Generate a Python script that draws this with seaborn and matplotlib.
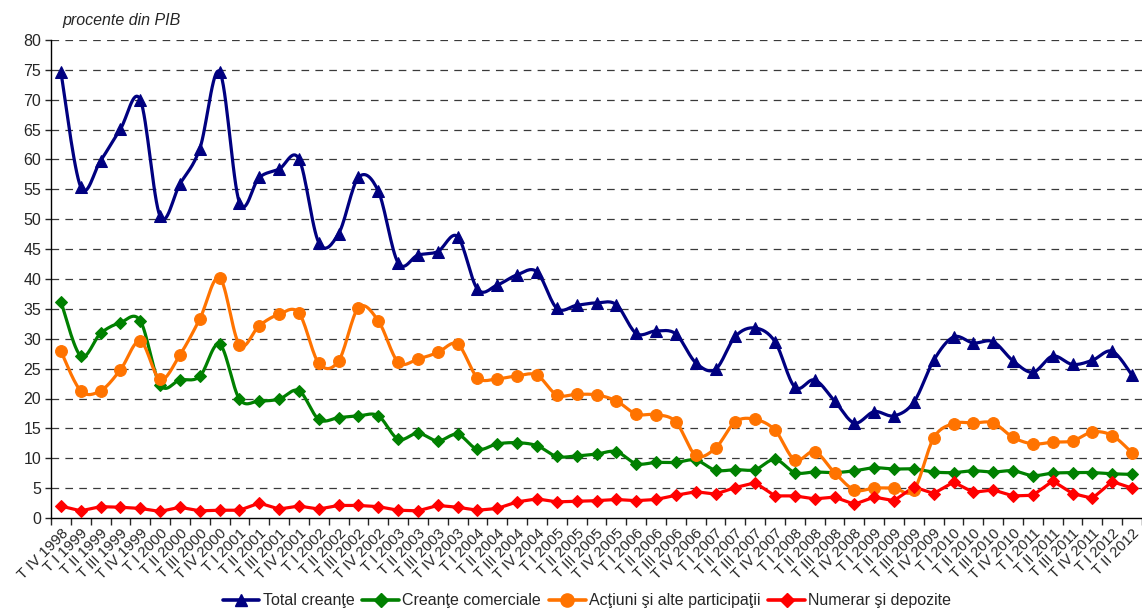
import numpy as np
import pandas as pd
import seaborn as sns
import matplotlib.pyplot as plt
from matplotlib.lines import Line2D

sns.set_style('white')
plt.rcParams['font.family'] = ['Liberation Sans', 'DejaVu Sans']
plt.rcParams['lines.scale_dashes'] = False

# etichete trimestre
roman = ['I', 'II', 'III', 'IV']
quarters = ['T IV 1998'] + [f'T {q} {y}' for y in range(1999, 2012) for q in roman] + ['T I 2012', 'T II 2012']

# valori (procente din PIB)
total = [74.6, 55.4, 59.8, 65.1, 70.0, 50.5, 55.9, 61.8, 74.7, 52.8,
         57.0, 58.4, 60.1, 46.1, 47.6, 57.0, 54.7, 42.7, 44.0, 44.6,
         47.1, 38.3, 39.0, 40.7, 41.2, 35.1, 35.6, 36.0, 35.7, 30.9,
         31.3, 30.8, 26.0, 24.9, 30.4, 31.8, 29.5, 21.9, 23.1, 19.6,
         15.9, 17.8, 17.1, 19.4, 26.4, 30.3, 29.3, 29.5, 26.3, 24.4,
         27.1, 25.7, 26.4, 27.9, 23.9]
comerciale = [36.2, 27.1, 30.9, 32.7, 33.0, 22.3, 23.1, 23.7, 29.1, 19.9,
              19.6, 19.9, 21.3, 16.5, 16.8, 17.1, 17.1, 13.2, 14.2, 12.9,
              14.0, 11.5, 12.4, 12.6, 12.1, 10.3, 10.4, 10.7, 11.1, 9.1,
              9.3, 9.3, 9.7, 8.0, 8.1, 8.1, 9.8, 7.6, 7.7, 7.6,
              7.9, 8.4, 8.2, 8.2, 7.7, 7.6, 7.9, 7.7, 7.9, 7.1,
              7.5, 7.6, 7.6, 7.4, 7.3]
actiuni = [27.9, 21.3, 21.3, 24.8, 29.6, 23.2, 27.3, 33.3, 40.2, 29.0,
           32.2, 34.1, 34.3, 25.9, 26.3, 35.2, 33.0, 26.1, 26.6, 27.7,
           29.1, 23.5, 23.3, 23.8, 23.9, 20.6, 20.7, 20.6, 19.6, 17.4,
           17.3, 16.1, 10.5, 11.7, 16.1, 16.5, 14.7, 9.7, 11.1, 7.6,
           4.7, 5.0, 5.0, 4.7, 13.4, 15.8, 15.9, 15.9, 13.5, 12.4,
           12.7, 12.9, 14.4, 13.8, 10.9]
numerar = [2.0, 1.2, 1.9, 1.8, 1.6, 1.1, 1.8, 1.2, 1.3, 1.3,
           2.5, 1.5, 2.0, 1.5, 2.1, 2.1, 1.9, 1.3, 1.2, 2.1,
           1.8, 1.3, 1.6, 2.7, 3.2, 2.7, 2.8, 2.9, 3.1, 2.9,
           3.1, 3.8, 4.4, 4.0, 5.1, 5.9, 3.7, 3.7, 3.2, 3.5,
           2.3, 3.5, 2.9, 5.2, 4.1, 6.0, 4.3, 4.7, 3.7, 3.8,
           6.2, 4.1, 3.3, 6.1, 5.0]

series = [
    ('Total creanţe', total, '#000080', '^', 8, True),
    ('Creanţe comerciale', comerciale, '#008000', 'D', 6, True),
    ('Acţiuni şi alte participaţii', actiuni, '#FF7300', 'o', 8.5, True),
    ('Numerar şi depozite', numerar, '#FF0000', 'D', 6, False),
]


def smooth(y, n=16):
    # curba tip Excel (Catmull-Rom -> Bezier)
    y = np.asarray(y, float)
    x = np.arange(len(y), dtype=float)
    p = np.column_stack([x, y])
    out = []
    t = np.linspace(0, 1, n, endpoint=False)[:, None]
    for i in range(len(p) - 1):
        p0 = p[max(i - 1, 0)]
        p1, p2 = p[i], p[i + 1]
        p3 = p[min(i + 2, len(p) - 1)]
        c1 = p1 + (p2 - p0) / 6
        c2 = p2 - (p3 - p1) / 6
        seg = ((1 - t) ** 3) * p1 + 3 * ((1 - t) ** 2) * t * c1 + 3 * (1 - t) * t ** 2 * c2 + t ** 3 * p2
        out.append(seg)
    out.append(p[-1:])
    out = np.vstack(out)
    return out[:, 0], out[:, 1]


fig = plt.figure(figsize=(11.42, 6.11), dpi=100)
ax = fig.add_axes([51 / 1142, 1 - 518 / 611, 1 - 51 / 1142, (518 - 40) / 611])

handles = []
for name, vals, color, mk, ms, sm in series:
    if sm:
        xs, ys = smooth(vals)
    else:
        xs, ys = np.arange(len(vals)), np.asarray(vals)
    sns.lineplot(x=xs, y=ys, ax=ax, color=color, lw=2.3, sort=False, zorder=3)
    df = pd.DataFrame({'x': np.arange(len(vals)), 'y': vals})
    sns.lineplot(data=df, x='x', y='y', ax=ax, color=color, lw=0, marker=mk,
                 markersize=ms, markeredgecolor=color, zorder=4)
    handles.append(Line2D([], [], color=color, lw=2.6, marker=mk, markersize=ms + 1,
                          markeredgecolor=color, label=name))

ax.set_xlim(-0.5, 54.05)
ax.set_ylim(0, 80)
ax.set_yticks(range(0, 81, 5))
ax.tick_params(axis='y', labelsize=11.5, length=4, width=1, direction='out', pad=3, left=True)
ax.set_xticks(np.arange(-0.5, 55, 1))
ax.set_xticklabels([])
ax.set_xticks(np.arange(len(quarters)), minor=True)
ax.set_xticklabels(quarters, minor=True, rotation=45, ha='right', va='top',
                   rotation_mode='anchor', fontsize=10.8)
ax.tick_params(axis='x', which='major', length=5, width=1, direction='out', bottom=True)
ax.tick_params(axis='x', which='minor', length=0, pad=6)
ax.set_xlabel('')
ax.set_ylabel('')

for v in range(5, 81, 5):
    ax.axhline(v, color='#3a3a3a', lw=0.9, ls=(0, (5.5, 4.5)), zorder=1)

for s in ['top', 'right']:
    ax.spines[s].set_visible(False)
for s in ['left', 'bottom']:
    ax.spines[s].set_color('black')
    ax.spines[s].set_linewidth(1)

fig.text(62 / 1142, 1 - 20 / 611, 'procente din PIB', style='italic', fontsize=11.5,
         va='center', ha='left')

fig.legend(handles=handles, loc='center', bbox_to_anchor=(587 / 1142, 1 - 601 / 611),
           ncol=4, frameon=False, fontsize=11.5, handlelength=2.3, handletextpad=0.2,
           columnspacing=0.5)

fig.savefig('out.png', dpi=100)
